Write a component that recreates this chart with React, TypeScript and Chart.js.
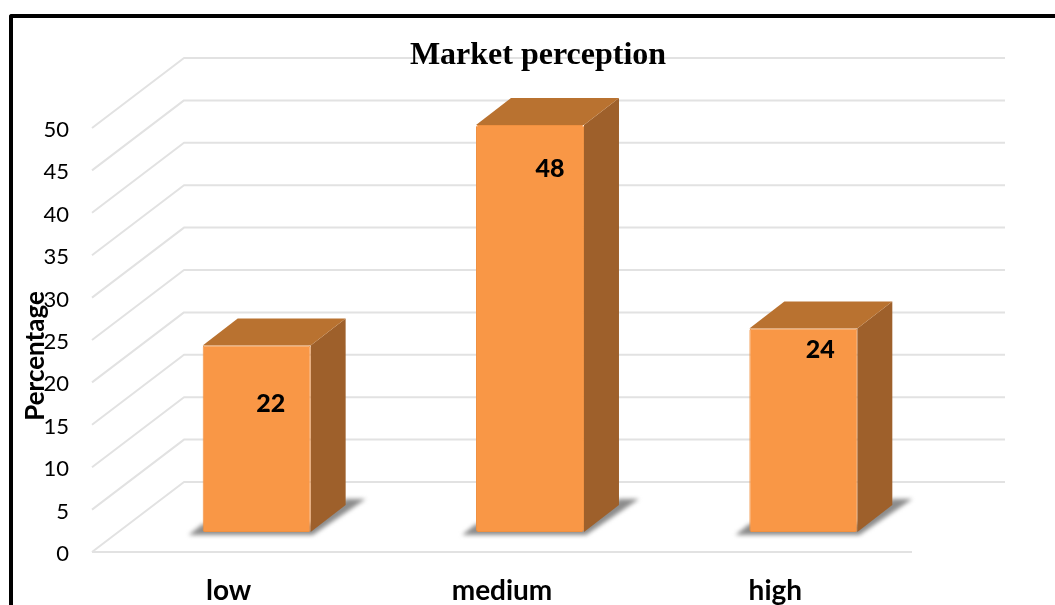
import React, { useEffect, useRef } from "react";
import { Chart, registerables } from "chart.js";

Chart.register(...registerables);

const categories = ["low", "medium", "high"];
const percentages = [22, 48, 24];
const yMax = 50;
const yStep = 5;
const chartTitle = "Market perception";
const yAxisTitle = "Percentage";

// Oblique projection: the floor recedes by this much from the front edge to the back wall.
const WALL_DX = 92;
const WALL_DY = -70;
const WALL_RIGHT_EXTRA = 93;
// The columns stand part-way into the floor.
const COLUMN_DX = 28;
const COLUMN_DY = -20;
// Depth of each column.
const DEPTH_DX = 35;
const DEPTH_DY = -27;

const labelShiftX = [14, 20, 17];
const labelShiftY = [58, 44, 21];

const GRID = "#E2E2E2";
const FRONT = "#F99746";
const TOP = "#B97230";
const SIDE = "#9E602B";
const BODY_FONT = "Lato, 'Open Sans', sans-serif";

const drawGrid = (chart: any) => {
  const { ctx, chartArea, scales } = chart;
  const y = scales.y;
  ctx.save();
  ctx.strokeStyle = GRID;
  ctx.lineWidth = 2;
  ctx.lineJoin = "round";
  y.ticks.forEach((t: any) => {
    const py = y.getPixelForValue(t.value);
    const bx = chartArea.left + WALL_DX;
    const by = py + WALL_DY;
    ctx.beginPath();
    ctx.moveTo(chartArea.left, py);
    ctx.lineTo(bx, by);
    ctx.lineTo(chartArea.right + WALL_RIGHT_EXTRA, by);
    ctx.stroke();
    if (t.value === 0) {
      ctx.beginPath();
      ctx.moveTo(chartArea.left, py);
      ctx.lineTo(chartArea.right, py);
      ctx.stroke();
    }
  });
  ctx.restore();
};

const drawColumnBody = (ctx: any, bar: any) => {
  const half = bar.width / 2;
  const l = bar.x - half;
  const r = bar.x + half;
  const top = bar.y;
  const base = bar.base;

  // Soft floor shadow
  ctx.save();
  ctx.filter = "blur(2px)";
  ctx.fillStyle = "#8C8C8C";
  ctx.beginPath();
  ctx.moveTo(l - 14, base + 3);
  ctx.lineTo(l, base - 8);
  ctx.lineTo(r, base - 8);
  ctx.lineTo(r + DEPTH_DX, base + DEPTH_DY - 6);
  ctx.lineTo(r + DEPTH_DX + 20, base + DEPTH_DY - 6);
  ctx.lineTo(r + 2, base + 3);
  ctx.closePath();
  ctx.fill();
  ctx.restore();

  // Right-hand side
  ctx.fillStyle = SIDE;
  ctx.beginPath();
  ctx.moveTo(r, top);
  ctx.lineTo(r + DEPTH_DX, top + DEPTH_DY);
  ctx.lineTo(r + DEPTH_DX, base + DEPTH_DY);
  ctx.lineTo(r, base);
  ctx.closePath();
  ctx.fill();

  // Top face
  ctx.fillStyle = TOP;
  ctx.beginPath();
  ctx.moveTo(l, top);
  ctx.lineTo(l + DEPTH_DX, top + DEPTH_DY);
  ctx.lineTo(r + DEPTH_DX, top + DEPTH_DY);
  ctx.lineTo(r, top);
  ctx.closePath();
  ctx.fill();
};

const obliqueColumns = {
  id: "obliqueColumns",
  beforeDatasetsDraw(chart: any) {
    drawGrid(chart);
    const { ctx } = chart;
    ctx.save();
    ctx.translate(COLUMN_DX, COLUMN_DY);
    chart.getDatasetMeta(0).data.forEach((bar: any) => drawColumnBody(ctx, bar));
  },
  afterDatasetsDraw(chart: any) {
    const { ctx } = chart;
    ctx.restore();

    // Value labels on the column fronts
    ctx.save();
    ctx.fillStyle = "#000";
    ctx.textAlign = "center";
    ctx.textBaseline = "middle";
    ctx.font = `900 25px ${BODY_FONT}`;
    chart.getDatasetMeta(0).data.forEach((bar: any, i: number) => {
      ctx.fillText(
        String(percentages[i]),
        bar.x + COLUMN_DX + labelShiftX[i],
        bar.y + COLUMN_DY + labelShiftY[i],
      );
    });

    // Chart heading
    ctx.font = "bold 32px 'Liberation Serif', serif";
    ctx.fillText(chartTitle, 538, 56);

    // Axis heading, which sits over the tick column
    ctx.translate(36, 356);
    ctx.rotate(-Math.PI / 2);
    ctx.font = `bold 26px ${BODY_FONT}`;
    ctx.fillText(yAxisTitle, 0, 0);
    ctx.restore();
  },
};

export default function App() {
  const ref = useRef<HTMLCanvasElement>(null);
  useEffect(() => {
    const chart = new Chart(ref.current!, {
      type: "bar",
      data: {
        labels: categories,
        datasets: [
          {
            label: yAxisTitle,
            data: percentages,
            backgroundColor: FRONT,
            borderColor: "#F0903F",
            borderWidth: 1,
            borderRadius: 2,
            borderSkipped: false,
            categoryPercentage: 1,
            barPercentage: 0.395,
            clip: false,
          } as any,
        ],
      },
      options: {
        responsive: false,
        animation: false,
        layout: { padding: { left: 26, right: 143, top: 128, bottom: 0 } },
        plugins: { legend: { display: false }, tooltip: { enabled: false } },
        scales: {
          x: {
            grid: { display: false },
            border: { display: false },
            ticks: {
              color: "#000",
              padding: 14,
              font: { family: BODY_FONT, size: 28, weight: "bold" },
            },
            afterFit: (s: any) => {
              s.height = 53;
            },
          },
          y: {
            min: 0,
            max: yMax,
            grid: { display: false },
            border: { display: false },
            ticks: {
              stepSize: yStep,
              color: "#000",
              padding: 15,
              labelOffset: 2,
              font: { family: BODY_FONT, size: 22 },
            },
            afterFit: (s: any) => {
              s.width = 66;
            },
          },
        },
      },
      plugins: [obliqueColumns],
    });
    return () => chart.destroy();
  }, []);

  return (
    <div
      style={{
        position: "fixed",
        left: 0,
        top: 0,
        width: 1055,
        height: 605,
        overflow: "hidden",
        background: "#fff",
      }}
    >
      <canvas ref={ref} width={1055} height={605} style={{ display: "block" }} />
      {/* Panel outline: only its left and top edges fall inside the page */}
      <div
        style={{
          position: "absolute",
          left: 9,
          top: 14,
          width: 1100,
          height: 640,
          borderLeft: "4px solid #000",
          borderTop: "4px solid #000",
          borderTopLeftRadius: 3,
          pointerEvents: "none",
        }}
      />
    </div>
  );
}
